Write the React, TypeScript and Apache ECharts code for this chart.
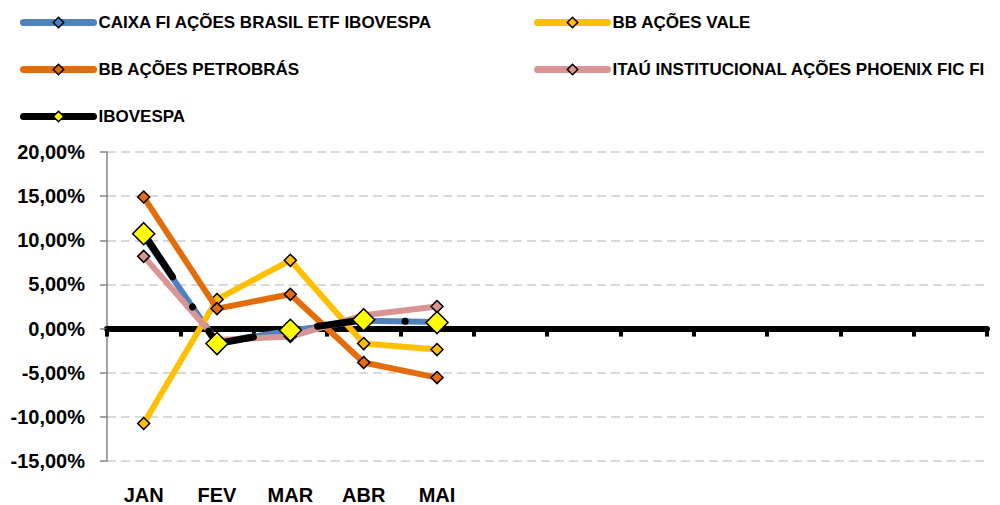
import React, { useEffect, useRef } from "react";
import * as echarts from "echarts";

const months = ["JAN", "FEV", "MAR", "ABR", "MAI", "JUN", "JUL", "AGO", "SET", "OUT", "NOV", "DEZ"];
const seriesNames = [
  "CAIXA FI AÇÕES BRASIL ETF IBOVESPA",
  "BB AÇÕES VALE",
  "BB AÇÕES PETROBRÁS",
  "ITAÚ INSTITUCIONAL AÇÕES PHOENIX FIC FI",
  "IBOVESPA",
];
const caixa = [10.45, -1.55, -0.25, 0.9, 0.75];
const vale = [-10.75, 3.3, 7.73, -1.7, -2.38];
const petro = [14.9, 2.26, 3.88, -3.85, -5.55];
const itau = [8.18, -1.3, -0.9, 1.5, 2.5];
const ibov = [10.75, -1.7, -0.19, 1.0, 0.68];
const yMin = -15;
const yMax = 20;
const yStep = 5;

const lineColors = ["#4F81BD", "#FFC000", "#E46C0A", "#D99594", "#000000"];
const markerColors = ["#4F81BD", "#FFC000", "#E46C0A", "#D99594", "#FFFF00"];

const FONT = "'Liberation Sans', Arial, sans-serif";

export default function App() {
  const ref = useRef<HTMLDivElement>(null);
  useEffect(() => {
    if (!ref.current) return;
    const chart = echarts.init(ref.current, null, { renderer: "svg" });
    const datasets = [caixa, vale, petro, itau, ibov];
    const legendPos = [
      { left: 20, top: 14 },
      { left: 534, top: 14 },
      { left: 20, top: 61 },
      { left: 534, top: 61 },
      { left: 20, top: 108 },
    ];
    const legends = seriesNames.map((n, i) => ({
      data: [n],
      left: legendPos[i].left,
      top: legendPos[i].top,
      padding: 0,
      itemWidth: 70,
      itemHeight: 13,
      itemGap: 0,
      selectedMode: false,
      textStyle: { fontFamily: FONT, fontWeight: "bold", fontSize: 17, color: "#000", padding: [0, 0, 0, 0] },
      lineStyle: { width: 7, type: "solid", cap: "round" },
      itemStyle: { borderWidth: 1.5, borderColor: "#000" },
    }));
    const series = datasets.map((d, i) => {
      const isIbov = i === 4;
      return {
        name: seriesNames[i],
        type: "line",
        data: d,
        xAxisIndex: 0,
        yAxisIndex: 0,
        symbol: "diamond",
        symbolSize: isIbov ? 22 : 12,
        z: isIbov ? 5 : 2 + i * 0.1,
        lineStyle: isIbov
          ? { color: lineColors[i], width: 7, type: [52, 36, 0.1, 29], cap: "round" }
          : { color: lineColors[i], width: 6, cap: "round", join: "round" },
        itemStyle: { color: markerColors[i], borderColor: "#000", borderWidth: 1.5 },
        emphasis: { disabled: true },
      };
    });
    chart.setOption({
      animation: false,
      legend: legends,
      grid: { left: 107, right: 13, top: 152, bottom: 44, containLabel: false },
      xAxis: [
        {
          type: "category",
          data: months,
          position: "bottom",
          boundaryGap: true,
          axisLine: { show: true, onZero: true, lineStyle: { color: "#000", width: 6 } },
          axisTick: { show: true, length: 8, lineStyle: { color: "#000", width: 4 } },
          axisLabel: { show: false },
          splitLine: { show: false },
        },
        {
          type: "category",
          data: months,
          position: "bottom",
          boundaryGap: true,
          axisLine: { show: false, onZero: false },
          axisTick: { show: false },
          axisLabel: {
            show: true,
            interval: 0,
            margin: 24,
            fontFamily: FONT,
            fontWeight: "bold",
            fontSize: 20,
            color: "#000",
            formatter: (v: string, idx: number) => (idx < ibov.length ? v : ""),
          },
          splitLine: { show: false },
        },
      ],
      yAxis: {
        type: "value",
        min: yMin,
        max: yMax,
        interval: yStep,
        axisLine: { show: true, lineStyle: { color: "#868686", width: 1.5 } },
        axisTick: { show: true, length: 7, lineStyle: { color: "#868686", width: 1.5 } },
        axisLabel: {
          margin: 22,
          fontFamily: FONT,
          fontWeight: "bold",
          fontSize: 20,
          color: "#000",
          formatter: (v: number) => v.toFixed(2).replace(".", ",") + "%",
        },
        splitLine: { show: true, lineStyle: { color: "#D9D9D9", width: 2, type: [9, 5] } },
      },
      series,
    });
    return () => chart.dispose();
  }, []);
  return (
    <div
      ref={ref}
      style={{ position: "absolute", left: 0, top: 0, width: 1000, height: 505, background: "#fff" }}
    />
  );
}
